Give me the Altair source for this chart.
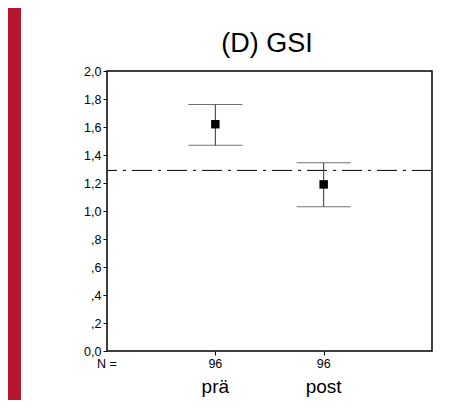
import altair as alt
import pandas as pd

# ---- data ----
categories = ["prä", "post"]
positions = [1, 2]
n_values = [96, 96]
means = [1.62, 1.19]
lower = [1.47, 1.03]
upper = [1.76, 1.345]
reference = [1.29]
y_ticks = [0.0, 0.2, 0.4, 0.6, 0.8, 1.0, 1.2, 1.4, 1.6, 1.8, 2.0]

df = pd.DataFrame({
    "cat": categories,
    "pos": positions,
    "n": n_values,
    "mean": means,
    "lo": lower,
    "hi": upper,
})

FONT = "Liberation Sans"
RED = "#B51730"
W, H = 325, 280

xscale = alt.Scale(domain=[0, 3], nice=False, zero=False)
yscale = alt.Scale(domain=[0, 2], nice=False, zero=True)

xaxis = alt.Axis(
    title=None, values=positions, labels=False, domain=False, grid=False,
    ticks=True, tickSize=4, tickColor="black", tickWidth=1,
)
yaxis = alt.Axis(
    title=None, values=y_ticks, domain=False, grid=False,
    ticks=True, tickSize=4, tickColor="black", tickWidth=1,
    labelFont=FONT, labelFontSize=12.5, labelColor="black", labelPadding=2,
    labelExpr="datum.value > 0 && datum.value < 1 ? ',' + substring(format(datum.value, '.1f'), 2) : replace(format(datum.value, '.1f'), '.', ',')",
)

base = alt.Chart(df)
one = alt.Chart(pd.DataFrame({"k": [0]}))

strip = one.mark_rect(color=RED).encode(
    x=alt.value(-99), x2=alt.value(-86), y=alt.value(-63), y2=alt.value(329)
)

whiskers = base.mark_rule(color="#333333", strokeWidth=1).encode(
    x=alt.X("pos:Q", scale=xscale, axis=xaxis),
    y=alt.Y("lo:Q", scale=yscale, axis=yaxis),
    y2="hi:Q",
)

caps = base.transform_fold(["lo", "hi"], as_=["which", "val"]).mark_tick(
    orient="horizontal", size=54, thickness=1, color="#333333"
).encode(
    x=alt.X("pos:Q", scale=xscale, axis=xaxis),
    y=alt.Y("val:Q", scale=yscale, axis=yaxis),
)

points = base.mark_point(shape="square", filled=True, size=72, color="black", opacity=1).encode(
    x=alt.X("pos:Q", scale=xscale, axis=xaxis),
    y=alt.Y("mean:Q", scale=yscale, axis=yaxis),
)

ref = alt.Chart(pd.DataFrame({"ref": reference})).mark_rule(
    color="black", strokeWidth=1, strokeDash=[20, 6, 3, 6]
).encode(
    y=alt.Y("ref:Q", scale=yscale, axis=yaxis),
)

n_text = base.mark_text(font=FONT, fontSize=12.5, baseline="alphabetic", color="black").encode(
    x=alt.X("pos:Q", scale=xscale, axis=xaxis),
    y=alt.value(297),
    text="n:Q",
)

n_label = one.mark_text(font=FONT, fontSize=12.5, baseline="alphabetic", color="black").encode(
    x=alt.value(0), y=alt.value(297), text=alt.value("N =")
)

cat_text = base.mark_text(font=FONT, fontSize=19, baseline="alphabetic", color="black").encode(
    x=alt.X("pos:Q", scale=xscale, axis=xaxis),
    y=alt.value(322),
    text="cat:N",
)

title = one.mark_text(font=FONT, fontSize=27, baseline="alphabetic", color="black").encode(
    x=alt.value(160), y=alt.value(-19), text=alt.value("(D) GSI")
)

chart = alt.layer(
    strip, ref, whiskers, caps, points, n_text, n_label, cat_text, title
).properties(
    width=W, height=H,
    autosize=alt.AutoSizeParams(type="none"),
    padding={"left": 99, "top": 63, "right": 15, "bottom": 49},
).configure(
    font=FONT, background="white"
).configure_view(
    stroke="black", strokeWidth=1.5
)

chart.save("out.html", embed_options={"renderer": "svg", "actions": False})
